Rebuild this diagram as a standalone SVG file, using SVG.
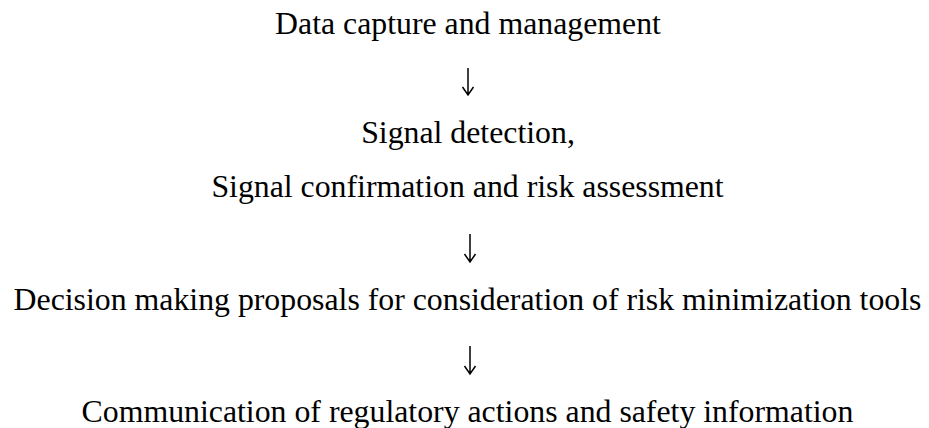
<svg xmlns="http://www.w3.org/2000/svg" width="929" height="428" viewBox="0 0 929 428">
<style>
.t{font-family:"Liberation Serif","Times New Roman",serif;font-size:31.8px;fill:#000;text-anchor:middle}
.c{stroke:#000;stroke-width:1.5;fill:none}
</style>
<rect width="929" height="428" fill="#fff"/>
<g id="n1"><text class="t" x="468" y="34">Data capture and management</text></g>
<g id="n2"><text class="t" x="468" y="143">Signal detection,</text><text class="t" x="467.5" y="197">Signal confirmation and risk assessment</text></g>
<g id="n3"><text class="t" x="467.5" y="310">Decision making proposals for consideration of risk minimization tools</text></g>
<g id="n4"><text class="t" x="467.5" y="422">Communication of regulatory actions and safety information</text></g>
<g id="connectors">
<path class="c" d="M468 68V95M462.5 87L468 95L473.5 87"/>
<path class="c" d="M470 234V262M464.5 254L470 262L475.5 254"/>
<path class="c" d="M470 346V374M464.5 366L470 374L475.5 366"/>
</g>
</svg>
